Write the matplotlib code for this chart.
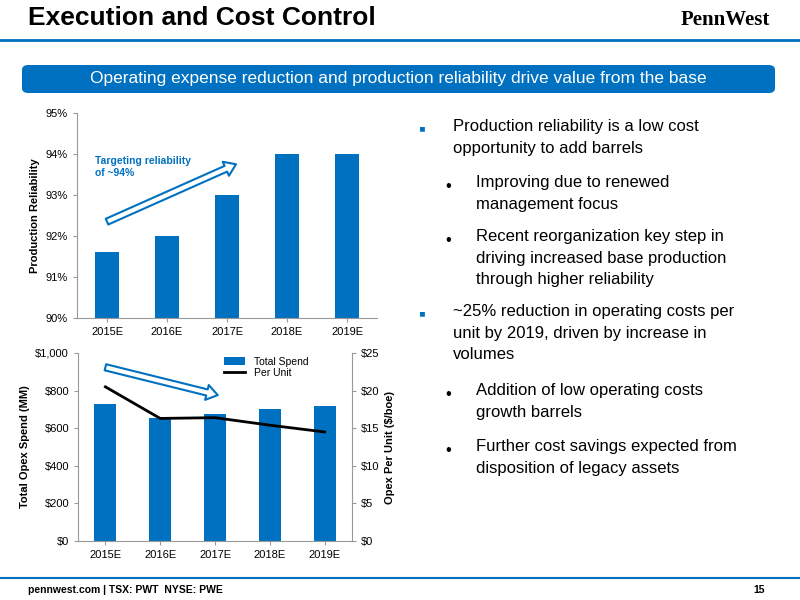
import matplotlib
matplotlib.use('Agg')
import matplotlib.pyplot as plt
from matplotlib.patches import FancyBboxPatch
from matplotlib.lines import Line2D

YEARS = ['2015E', '2016E', '2017E', '2018E', '2019E']
RELIABILITY = [91.6, 92.0, 93.0, 94.0, 94.0]
TOTAL_SPEND = [730, 652, 677, 700, 720]
PER_UNIT = [20.5, 16.3, 16.4, 15.4, 14.5]

BLUE = '#0070C0'
plt.rcParams['font.family'] = ['Liberation Sans', 'DejaVu Sans']

W, H = 800, 600
fig = plt.figure(figsize=(8, 6), dpi=100)

def box(x0, y0, x1, y1):
    return [x0 / W, 1 - y1 / H, (x1 - x0) / W, (y1 - y0) / H]

# header
fig.text(28 / W, 1 - 18 / H, 'Execution and Cost Control', fontsize=19, fontweight='bold', va='center')
fig.text(770 / W, 1 - 20 / H, 'PennWest', fontsize=15, fontweight='bold', ha='right', va='center',
         family=['Liberation Serif', 'DejaVu Serif'])
fig.add_artist(Line2D([0, 1], [1 - 40 / H] * 2, color=BLUE, lw=2))
fig.add_artist(FancyBboxPatch((22 / W, 1 - 93 / H), 753 / W, 28 / H,
                              boxstyle='round,pad=0,rounding_size=0.008', fc=BLUE, ec='none'))
fig.text(398 / W, 1 - 79 / H, 'Operating expense reduction and production reliability drive value from the base',
         color='white', fontsize=12.5, ha='center', va='center')

# footer
fig.add_artist(Line2D([0, 1], [1 - 578 / H] * 2, color=BLUE, lw=1.5))
fig.text(28 / W, 1 - 590 / H, 'pennwest.com | TSX: PWT  NYSE: PWE', fontsize=7.5, fontweight='bold', va='center')
fig.text(765 / W, 1 - 590 / H, '15', fontsize=7.5, fontweight='bold', ha='right', va='center')

def style(ax):
    for s in ['top', 'right']:
        ax.spines[s].set_visible(False)
    for s in ax.spines.values():
        s.set_color('#999999')
    ax.tick_params(labelsize=8, length=3, color='#999999')
    ax.set_xlim(-0.5, 4.5)

ARROW = dict(arrowstyle='simple,head_width=1.1,head_length=0.8,tail_width=0.45',
             fc='white', ec=BLUE, lw=1.5, shrinkA=0, shrinkB=0)

# top chart
ax1 = fig.add_axes(box(77, 113, 377, 318))
ax1.bar(YEARS, RELIABILITY, width=0.4, color=BLUE)
ax1.set_ylim(90, 95)
ax1.set_yticks(range(90, 96))
ax1.set_yticklabels([f'{v}%' for v in range(90, 96)])
ax1.set_ylabel('Production Reliability', fontsize=8, fontweight='bold')
style(ax1)
ax1.text(-0.2, 93.95, 'Targeting reliability\nof ~94%', color=BLUE, fontsize=7.5, fontweight='bold', va='top')
ax1.annotate('', xy=(2.15, 93.75), xytext=(0.0, 92.35), arrowprops=ARROW)

# bottom chart
ax2 = fig.add_axes(box(78, 353, 352, 541))
ax2.bar(YEARS, TOTAL_SPEND, width=0.4, color=BLUE, label='Total Spend')
ax2.set_ylim(0, 1000)
ax2.set_yticks(range(0, 1001, 200))
ax2.set_yticklabels([f'${v:,}' for v in range(0, 1001, 200)])
ax2.set_ylabel('Total Opex Spend (MM)', fontsize=8, fontweight='bold')
style(ax2)
ax3 = ax2.twinx()
ax3.plot(YEARS, PER_UNIT, color='black', lw=2, label='Per Unit')
ax3.set_ylim(0, 25)
ax3.set_yticks(range(0, 26, 5))
ax3.set_yticklabels([f'${v}' for v in range(0, 26, 5)])
ax3.set_ylabel('Opex Per Unit ($/boe)', fontsize=8, fontweight='bold')
for s in ['top', 'left', 'bottom']:
    ax3.spines[s].set_visible(False)
ax3.spines['right'].set_color('#999999')
ax3.tick_params(labelsize=8, length=3, color='#999999')
ax3.annotate('', xy=(2.05, 19.4), xytext=(0.0, 23.1), arrowprops=ARROW)
h1, l1 = ax2.get_legend_handles_labels()
h2, l2 = ax3.get_legend_handles_labels()
ax3.legend(h1 + h2, l1 + l2, loc='upper left', bbox_to_anchor=(0.5, 1.03), frameon=False,
           fontsize=7.5, handlelength=2, labelspacing=0.1)

# bullets
bullets = [
    (443, 130, '▪', 'Production reliability is a low cost\nopportunity to add barrels', True),
    (466, 186, '•', 'Improving due to renewed\nmanagement focus', False),
    (466, 240, '•', 'Recent reorganization key step in\ndriving increased base production\nthrough higher reliability', False),
    (443, 315, '▪', '~25% reduction in operating costs per\nunit by 2019, driven by increase in\nvolumes', True),
    (466, 394, '•', 'Addition of low operating costs\ngrowth barrels', False),
    (466, 450, '•', 'Further cost savings expected from\ndisposition of legacy assets', False),
]
for x, y, sym, txt, main in bullets:
    fig.text((x - 24 if main else x - 21) / W, 1 - y / H, sym, fontsize=14 if main else 12,
             color=BLUE if main else 'black', va='center', ha='left')
    fig.text((x + 10) / W, 1 - (y - 11) / H, txt, fontsize=12, va='top', ha='left', linespacing=1.55)

fig.savefig('out.png', dpi=100)
